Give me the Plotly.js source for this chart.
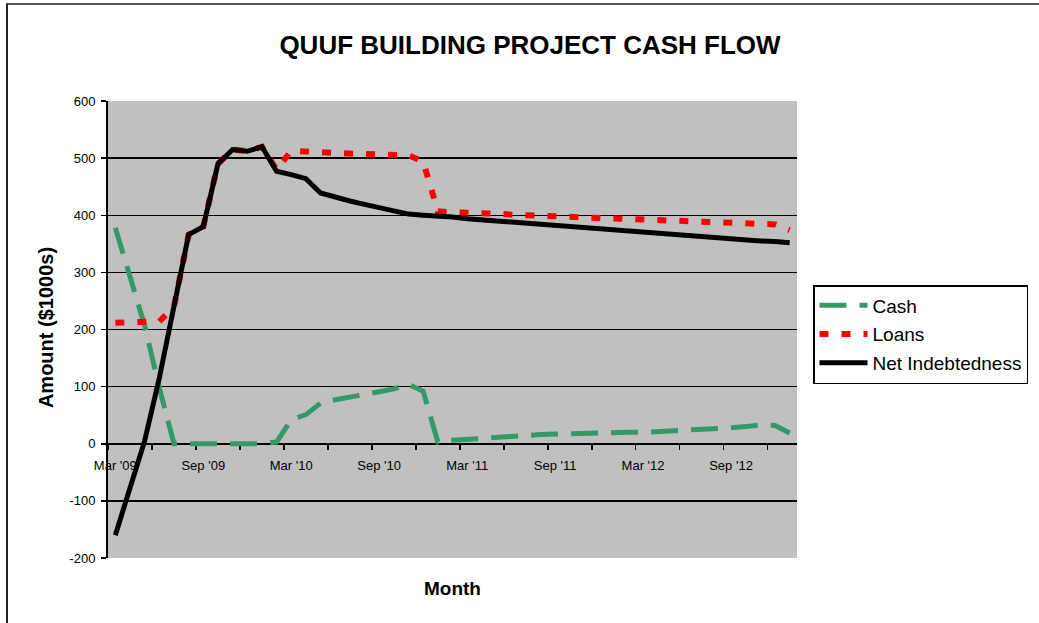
<!DOCTYPE html>
<html>
<head>
<meta charset="utf-8">
<script src="https://cdn.plot.ly/plotly-3.0.1.min.js"></script>
<style>
  html, body { margin: 0; padding: 0; background: #ffffff; }
  #wrap { position: relative; width: 1039px; height: 623px; overflow: hidden; }
  #chart { position: absolute; left: 0; top: 0; width: 1039px; height: 623px; }
  #frame { position: absolute; left: 6px; top: 3px; width: 1100px; height: 700px;
           border-left: 2px solid #222; border-top: 2px solid #555; pointer-events: none; }
</style>
</head>
<body>
<div id="wrap">
  <div id="chart"></div>
  <div id="frame"></div>
</div>
<script>
// ---- data (thousands of $) ----
const months = [
  "Mar '09","Apr '09","May '09","Jun '09","Jul '09","Aug '09","Sep '09","Oct '09","Nov '09","Dec '09",
  "Jan '10","Feb '10","Mar '10","Apr '10","May '10","Jun '10","Jul '10","Aug '10","Sep '10","Oct '10",
  "Nov '10","Dec '10","Jan '11","Feb '11","Mar '11","Apr '11","May '11","Jun '11","Jul '11","Aug '11",
  "Sep '11","Oct '11","Nov '11","Dec '11","Jan '12","Feb '12","Mar '12","Apr '12","May '12","Jun '12",
  "Jul '12","Aug '12","Sep '12","Oct '12","Nov '12","Dec '12","Jan '13"
];
const cash = [
  378, 290, 207, 98, 0, 0, 0, 0, 0, 0,
  0, 3, 42, 51, 71, 77, 81, 87, 91, 96,
  104, 92, 3, 6, 8, 10, 12, 14, 15, 16,
  17, 18, 18, 19, 19, 20, 20, 21, 23, 24,
  26, 27, 28, 30, 33, 32, 19
];
const loans = [
  212, 212, 212, 214, 240, 366, 380, 490, 515, 512,
  520, 480, 513, 511, 509, 509, 508, 507, 506, 505,
  505, 494, 407, 405, 405, 404, 403, 401, 400, 399,
  398, 397, 396, 395, 394, 394, 393, 392, 391, 391,
  390, 389, 388, 387, 386, 384, 374
];
const netIndebtedness = [
  -160, -78, 5, 115, 240, 366, 380, 490, 515, 512,
  520, 477, 471, 464, 439, 431, 425, 419, 413, 407,
  402, 400, 399, 397, 394, 392, 390, 388, 386, 384,
  381, 379, 377, 375, 373, 371, 369, 367, 365, 363,
  361, 360, 358, 357, 355, 354, 352
];
const yTickVals = [-200, -100, 0, 100, 200, 300, 400, 500, 600];
const yTickText = ["-200", "-100", "0", "100", "200", "300", "400", "500", "600"];
const xLabelStep = 6;

// ---- build ----
const xIdx = months.map((m, i) => i);
const xTickVals = xIdx.filter(i => i % xLabelStep === 0);
const xTickText = xTickVals.map(i => months[i]);

const FONT = "Arial, 'Liberation Sans', sans-serif";

const traces = [
  {
    x: xIdx, y: cash, name: "Cash", type: "scatter", mode: "lines",
    legendgroup: "g1",
    line: { color: "#339966", width: 5, dash: "27px,13px" }
  },
  {
    x: xIdx, y: loans, name: "Loans", type: "scatter", mode: "lines",
    legendgroup: "g2",
    line: { color: "#ff0000", width: 6, dash: "9px,13px" }
  },
  {
    x: xIdx, y: netIndebtedness, name: "Net Indebtedness", type: "scatter", mode: "lines",
    legendgroup: "g3",
    line: { color: "#000000", width: 5 }
  }
];

const layout = {
  width: 1039, height: 623,
  margin: { l: 108, r: 241, t: 101, b: 65, pad: 0 },
  paper_bgcolor: "#ffffff",
  plot_bgcolor: "#c0c0c0",
  font: { family: FONT, color: "#000000" },
  showlegend: true,
  title: {
    text: "QUUF BUILDING PROJECT CASH FLOW",
    font: { family: FONT, size: 26, color: "#000000", weight: "bold" },
    xref: "container", yref: "container",
    x: 530 / 1039, xanchor: "center",
    y: 1 - 45 / 623, yanchor: "middle"
  },
  xaxis: {
    range: [-0.5, 46.5],
    anchor: "free", position: 0.25,
    showline: true, linecolor: "#000000", linewidth: 2,
    showgrid: false, zeroline: false,
    tickmode: "array", tickvals: xTickVals, ticktext: xTickText,
    ticks: "", ticklabelstandoff: 10,
    tickfont: { family: FONT, size: 13, color: "#000000" },
    minor: { tick0: -0.5, dtick: 3, ticks: "outside", ticklen: 5, tickwidth: 1.5,
             tickcolor: "#000000", showgrid: false },
    layer: "below traces",
    fixedrange: true
  },
  yaxis: {
    range: [-200, 600],
    showline: true, linecolor: "#000000", linewidth: 2,
    showgrid: true, gridcolor: "#000000", gridwidth: 1.5,
    zeroline: false,
    tickmode: "array", tickvals: yTickVals, ticktext: yTickText,
    ticks: "outside", ticklen: 5, tickwidth: 1.5, tickcolor: "#000000",
    ticklabelstandoff: 3,
    tickfont: { family: FONT, size: 13, color: "#000000" },
    fixedrange: true
  },
  legend: {
    x: (813 - 108) / 690, xanchor: "left",
    y: (558 - 285) / 457, yanchor: "top",
    bgcolor: "#ffffff", bordercolor: "#000000", borderwidth: 1.5,
    font: { family: FONT, size: 19, color: "#000000" },
    traceorder: "grouped", tracegroupgap: 1,
    itemwidth: 48
  },
  annotations: [
    {
      text: "Amount ($1000s)", textangle: -90,
      xref: "paper", yref: "paper",
      x: (46 - 108) / 690, xanchor: "center",
      y: (558 - 328) / 457, yanchor: "middle",
      showarrow: false,
      font: { family: FONT, size: 20, color: "#000000", weight: "bold" }
    },
    {
      text: "Month",
      xref: "paper", yref: "paper",
      x: 0.5, xanchor: "center",
      y: (558 - 588) / 457, yanchor: "middle",
      showarrow: false,
      font: { family: FONT, size: 19, color: "#000000", weight: "bold" }
    }
  ]
};

Plotly.newPlot("chart", traces, layout, { staticPlot: true, displayModeBar: false });
</script>
</body>
</html>
